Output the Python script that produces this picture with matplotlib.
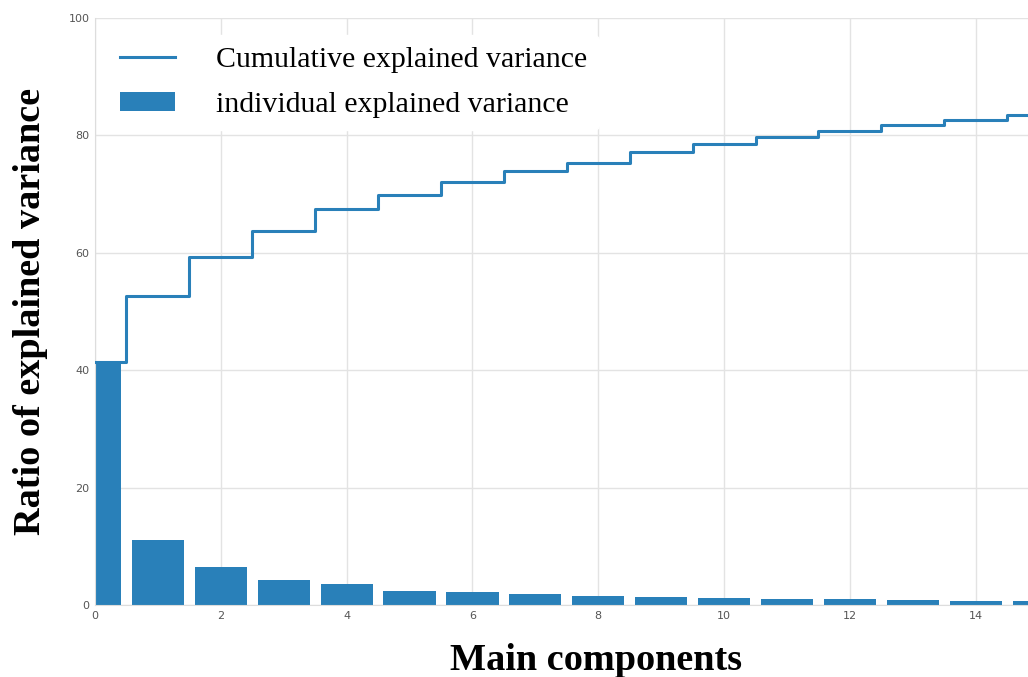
import numpy as np
import matplotlib.pyplot as plt

# values
components = np.arange(16)
individual = [41.4, 11.1, 6.5, 4.3, 3.6, 2.4, 2.2, 1.8, 1.5, 1.4, 1.25, 1.1, 0.97, 0.85, 0.73, 0.68]
cumulative = [41.4, 52.6, 59.3, 63.7, 67.5, 69.8, 72.1, 74.0, 75.3, 77.1, 78.5, 79.7, 80.75, 81.7, 82.6, 83.5]

blue = '#2980b9'

fig = plt.figure(figsize=(10.28, 6.77), dpi=100)
ax = fig.add_axes([0.0924, 0.1064, 0.9076, 0.867])

ax.bar(components, individual, width=0.83, color=blue, label='individual explained variance', zorder=2)
ax.step(components, cumulative, where='mid', color=blue, linewidth=2.2, label='Cumulative explained variance', zorder=3)

ax.set_xlim(0, 14.83)
ax.set_ylim(0, 100)
ax.set_xticks(range(0, 15, 2))
ax.set_yticks(range(0, 101, 20))
ax.grid(True, color='#e3e3e3', linewidth=1, zorder=0)
ax.set_axisbelow(True)
ax.tick_params(length=0, labelsize=8, labelcolor='#555555', pad=4)
for s in ['top', 'right']:
    ax.spines[s].set_visible(False)
for s in ['left', 'bottom']:
    ax.spines[s].set_color('#dddddd')

fig.text(0.03, 0.54, 'Ratio of explained variance', rotation=90, ha='center', va='center',
         family='Liberation Serif', fontweight='bold', fontsize=27.5)
fig.text(0.58, 0.025, 'Main components', ha='center', va='center',
         family='Liberation Serif', fontweight='bold', fontsize=27.5)

handles, labels = ax.get_legend_handles_labels()
leg = ax.legend(handles, labels, loc='upper left', bbox_to_anchor=(0.014, 0.971),
                prop={'family': 'Liberation Serif', 'size': 21.5}, frameon=True, framealpha=1,
                facecolor='white', edgecolor='white', handlelength=1.85, handletextpad=1.35,
                labelspacing=0.64, borderpad=0.4, borderaxespad=0, handleheight=0.6)

fig.savefig('out.png', dpi=100)
